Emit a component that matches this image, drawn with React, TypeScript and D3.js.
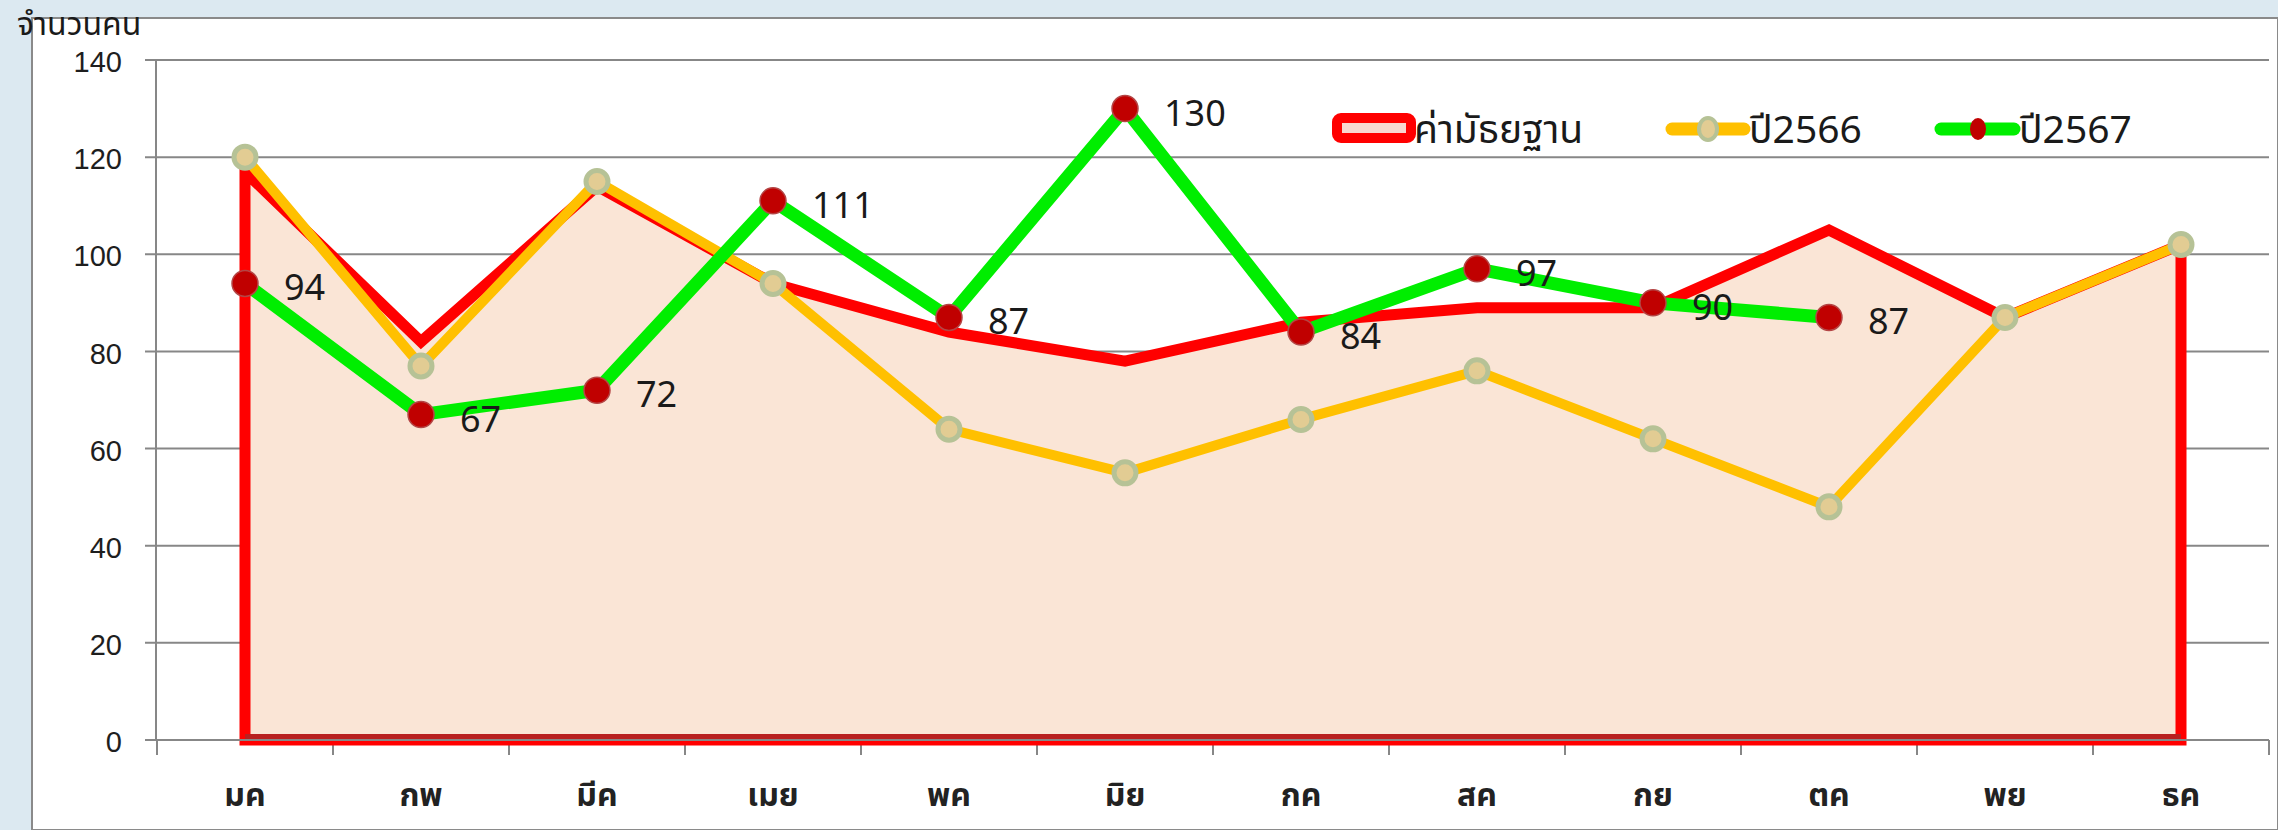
import { useEffect, useRef } from "react";
import * as d3 from "d3";

// months (x categories)
const months = ["มค", "กพ", "มีค", "เมย", "พค", "มิย", "กค", "สค", "กย", "ตค", "พย", "ธค"];
// median values (area series)
const medianValues = [117, 82, 114, 94, 84, 78, 86, 89, 89, 105, 87, 102];
// year 2566
const values2566 = [120, 77, 115, 94, 64, 55, 66, 76, 62, 48, 87, 102];
// year 2567 (Jan - Oct only)
const values2567 = [94, 67, 72, 111, 87, 130, 84, 97, 90, 87];
const yTicks = [0, 20, 40, 60, 80, 100, 120, 140];

const seriesNames = ["ค่ามัธยฐาน", "ปี2566", "ปี2567"];

const width = 2278, height = 830;
const thaiFont = "Tahoma, 'Noto Sans Thai', 'Noto Sans', 'DejaVu Sans', sans-serif";

function App() {
    const ref = useRef(null);

    useEffect(() => {
        const svg = d3.select(ref.current);
        svg.selectAll("*").remove();

        const x = d3.scaleBand().domain(months).range([157, 2269]);
        const y = d3.scaleLinear().domain([0, 140]).range([740, 60]);
        const cx = (i) => x(months[i]) + x.bandwidth() / 2;

        // light blue frame + white chart area
        svg.append("rect").attr("width", width).attr("height", height).attr("fill", "#dce9f1");
        svg.append("rect")
            .attr("x", 32).attr("y", 18)
            .attr("width", width - 32).attr("height", height - 18)
            .attr("fill", "#ffffff")
            .attr("stroke", "#8a8a8a").attr("stroke-width", 2);

        // gridlines and y labels
        const grid = svg.append("g");
        grid.selectAll("line")
            .data(yTicks)
            .join("line")
            .attr("x1", 145).attr("x2", 2269)
            .attr("y1", d => y(d)).attr("y2", d => y(d))
            .attr("stroke", "#878787").attr("stroke-width", 2);
        grid.selectAll("text")
            .data(yTicks)
            .join("text")
            .attr("x", 122).attr("y", d => y(d) + 2)
            .attr("dy", "0.35em")
            .attr("text-anchor", "end")
            .attr("font-family", "'Liberation Sans', Arial, sans-serif")
            .attr("font-size", 29)
            .attr("fill", "#1e1e1e")
            .text(d => d);

        // y axis line
        svg.append("line")
            .attr("x1", 156).attr("x2", 156).attr("y1", y(140)).attr("y2", y(0))
            .attr("stroke", "#878787").attr("stroke-width", 2);

        // x ticks at band edges
        svg.append("g").selectAll("line")
            .data(d3.range(months.length + 1))
            .join("line")
            .attr("x1", i => 157 + i * x.bandwidth()).attr("x2", i => 157 + i * x.bandwidth())
            .attr("y1", y(0)).attr("y2", y(0) + 15)
            .attr("stroke", "#878787").attr("stroke-width", 2);

        // x labels
        svg.append("g").selectAll("text")
            .data(months)
            .join("text")
            .attr("x", d => x(d) + x.bandwidth() / 2)
            .attr("y", 806)
            .attr("text-anchor", "middle")
            .attr("font-family", thaiFont)
            .attr("font-weight", "bold")
            .attr("font-size", 32)
            .attr("fill", "#222")
            .text(d => d);

        // axis title
        svg.append("text")
            .attr("x", 17).attr("y", 35)
            .attr("font-family", thaiFont)
            .attr("font-size", 32)
            .attr("fill", "#1a1a1a")
            .text("จำนวนคน");

        // median area
        const area = d3.area()
            .x((d, i) => cx(i))
            .y0(y(0))
            .y1(d => y(d));
        svg.append("path")
            .datum(medianValues)
            .attr("d", area)
            .attr("fill", "#fae5d6")
            .attr("stroke", "#ff0000")
            .attr("stroke-width", 11)
            .attr("stroke-linejoin", "miter");
        // darker bottom edge of the area
        svg.append("line")
            .attr("x1", cx(0)).attr("x2", cx(11))
            .attr("y1", y(0) - 3).attr("y2", y(0) - 3)
            .attr("stroke", "#b82020").attr("stroke-width", 6);
        svg.append("line")
            .attr("x1", 156).attr("x2", 2269).attr("y1", y(0)).attr("y2", y(0))
            .attr("stroke", "#878787").attr("stroke-width", 2);

        const line = d3.line().x((d, i) => cx(i)).y(d => y(d));

        // 2566
        svg.append("path")
            .datum(values2566)
            .attr("d", line)
            .attr("fill", "none")
            .attr("stroke", "#ffc000")
            .attr("stroke-width", 10)
            .attr("stroke-linejoin", "round");
        svg.append("g").selectAll("circle")
            .data(values2566)
            .join("circle")
            .attr("cx", (d, i) => cx(i)).attr("cy", d => y(d))
            .attr("r", 11)
            .attr("fill", "#e2cc93")
            .attr("stroke", "#b6c296").attr("stroke-width", 5);

        // 2567
        svg.append("path")
            .datum(values2567)
            .attr("d", line)
            .attr("fill", "none")
            .attr("stroke", "#00ee00")
            .attr("stroke-width", 13)
            .attr("stroke-linejoin", "round");
        svg.append("g").selectAll("circle")
            .data(values2567)
            .join("circle")
            .attr("cx", (d, i) => cx(i)).attr("cy", d => y(d))
            .attr("r", 13)
            .attr("fill", "#c00000")
            .attr("stroke", "#b44545").attr("stroke-width", 1.5);
        svg.append("g").selectAll("text")
            .data(values2567)
            .join("text")
            .attr("x", (d, i) => cx(i) + 39)
            .attr("y", d => y(d) + 4)
            .attr("dy", "0.36em")
            .attr("font-family", "'Noto Sans', 'Open Sans', sans-serif")
            .attr("font-size", 36)
            .attr("fill", "#1a1a1a")
            .text(d => d);

        // legend
        const leg = svg.append("g").attr("font-family", thaiFont).attr("font-size", 39).attr("fill", "#1a1a1a");
        leg.append("rect")
            .attr("x", 1337).attr("y", 118).attr("width", 74).attr("height", 20).attr("rx", 4)
            .attr("fill", "#f8d8d0").attr("stroke", "#ff0000").attr("stroke-width", 10);
        leg.append("text").attr("x", 1414).attr("y", 143).text(seriesNames[0]);

        leg.append("line")
            .attr("x1", 1672).attr("x2", 1744).attr("y1", 129).attr("y2", 129)
            .attr("stroke", "#ffc000").attr("stroke-width", 13).attr("stroke-linecap", "round");
        leg.append("ellipse")
            .attr("cx", 1708).attr("cy", 129).attr("rx", 9).attr("ry", 11)
            .attr("fill", "#e2cc93").attr("stroke", "#b6c296").attr("stroke-width", 4);
        leg.append("text").attr("x", 1749).attr("y", 143).text(seriesNames[1]);

        leg.append("line")
            .attr("x1", 1941).attr("x2", 2014).attr("y1", 129).attr("y2", 129)
            .attr("stroke", "#00ee00").attr("stroke-width", 13).attr("stroke-linecap", "round");
        leg.append("ellipse")
            .attr("cx", 1978).attr("cy", 129).attr("rx", 8).attr("ry", 11)
            .attr("fill", "#c00000");
        leg.append("text").attr("x", 2019).attr("y", 143).text(seriesNames[2]);
    }, []);

    return (
        <svg ref={ref} width={width} height={height}
             style={{position: "absolute", left: 0, top: 0, display: "block"}} />
    );
}

export default App;
